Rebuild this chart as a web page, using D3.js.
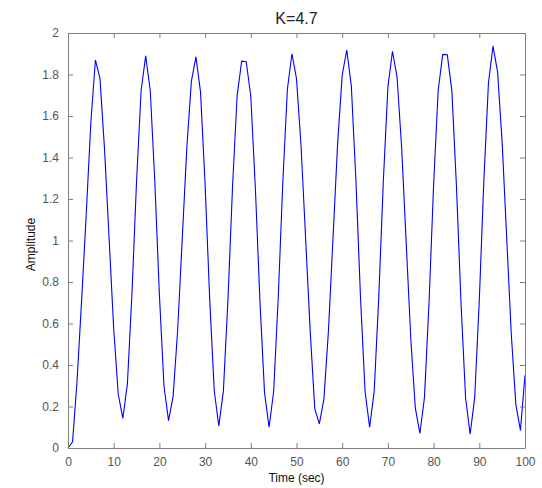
<!DOCTYPE html>
<html><head><meta charset="utf-8">
<script src="https://cdn.jsdelivr.net/npm/d3@7"></script>
<style>
html,body{margin:0;padding:0;background:#fff;}
svg{display:block;font-family:"Liberation Sans",Arial,sans-serif;}
</style></head>
<body>
<svg id="chart" width="542" height="488"></svg>
<script>
const title = "K=4.7";
const xLabel = "Time (sec)";
const yLabel = "Amplitude";
const xTicks = [0,10,20,30,40,50,60,70,80,90,100];
const yTicks = [0,0.2,0.4,0.6,0.8,1,1.2,1.4,1.6,1.8,2];
const time = d3.range(0, 101); // sample instants, 1 s apart
const amplitude = [
  0, 0.03, 0.33, 0.72, 1.13, 1.57, 1.87, 1.78, 1.438, 1.007,
  0.575, 0.259, 0.143, 0.310, 0.747, 1.286, 1.723, 1.890, 1.722, 1.283,
  0.739, 0.300, 0.132, 0.249, 0.570, 1.009, 1.447, 1.768, 1.885, 1.715,
  1.270, 0.721, 0.276, 0.106, 0.274, 0.713, 1.257, 1.696, 1.864, 1.862,
  1.694, 1.253, 0.709, 0.268, 0.100, 0.272, 0.722, 1.278, 1.728, 1.900,
  1.780, 1.454, 1.008, 0.562, 0.190, 0.116, 0.237, 0.567, 1.017, 1.468,
  1.797, 1.918, 1.744, 1.290, 0.728, 0.274, 0.100, 0.273, 0.726, 1.286,
  1.739, 1.912, 1.789, 1.451, 0.991, 0.530, 0.193, 0.070, 0.244, 0.701,
  1.266, 1.723, 1.897, 1.895, 1.720, 1.263, 0.698, 0.241, 0.066, 0.245,
  0.712, 1.291, 1.758, 1.937, 1.813, 1.474, 1.011, 0.548, 0.209, 0.085,
  0.350
];

const svg = d3.select("#chart");
const L = 68, R = 525, T = 33, B = 448;
const x = d3.scaleLinear().domain([0, 100]).range([L, R]);
const y = d3.scaleLinear().domain([0, 2]).range([B, T]);
const axisColor = "#7f7f7f";
const labelColor = "#555";
const tickLen = 5;

// data line
const data = time.map((t, i) => [t, amplitude[i]]);
svg.append("path")
  .datum(data)
  .attr("fill", "none")
  .attr("stroke", "#0000ff")
  .attr("stroke-width", 1.1)
  .attr("stroke-linejoin", "miter")
  .attr("d", d3.line().x(d => x(d[0])).y(d => y(d[1])));

// axes (ticks inward, mirrored)
function styleAxis(g) {
  g.select(".domain").attr("stroke", axisColor).attr("stroke-width", 1);
  g.selectAll(".tick line").attr("stroke", axisColor);
  g.selectAll(".tick text").attr("fill", labelColor).attr("font-size", 12)
    .attr("font-family", "Liberation Sans, Arial, sans-serif");
}
const gx = svg.append("g").attr("transform", `translate(0,${B})`)
  .call(d3.axisBottom(x).tickValues(xTicks).tickFormat(d3.format("d"))
    .tickSizeInner(-tickLen).tickSizeOuter(0).tickPadding(9));
styleAxis(gx);
const gxt = svg.append("g").attr("transform", `translate(0,${T})`)
  .call(d3.axisTop(x).tickValues(xTicks).tickFormat("")
    .tickSizeInner(-tickLen).tickSizeOuter(0));
styleAxis(gxt);
const gy = svg.append("g").attr("transform", `translate(${L},0)`)
  .call(d3.axisLeft(y).tickValues(yTicks).tickFormat(d => d3.format("~g")(d))
    .tickSizeInner(-tickLen).tickSizeOuter(0).tickPadding(9));
styleAxis(gy);
const gyr = svg.append("g").attr("transform", `translate(${R},0)`)
  .call(d3.axisRight(y).tickValues(yTicks).tickFormat("")
    .tickSizeInner(-tickLen).tickSizeOuter(0));
styleAxis(gyr);

// title & labels
svg.append("text").attr("x", (L + R) / 2).attr("y", 24)
  .attr("text-anchor", "middle").attr("font-size", 16).attr("fill", "#222")
  .text(title);
svg.append("text").attr("x", (L + R) / 2).attr("y", 482)
  .attr("text-anchor", "middle").attr("font-size", 12).attr("fill", "#111")
  .text(xLabel);
svg.append("text").attr("transform", `translate(35,${(T + B) / 2 + 4}) rotate(-90)`)
  .attr("text-anchor", "middle").attr("font-size", 12).attr("fill", "#111")
  .text(yLabel);
</script>
</body></html>
